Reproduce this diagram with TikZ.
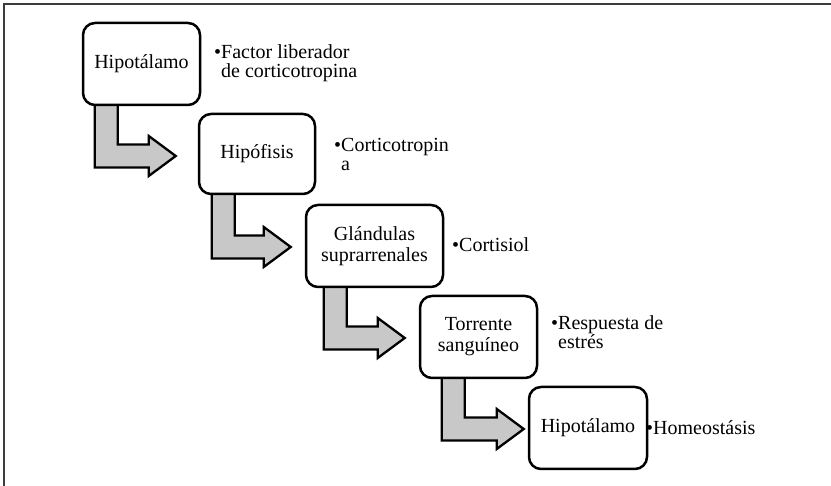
\documentclass[tikz,border=0pt]{standalone}
\usepackage{fontspec}
\setmainfont{Liberation Serif}
\usetikzlibrary{calc,backgrounds}
\definecolor{arrowgray}{RGB}{200,200,200}
\definecolor{framegray}{RGB}{60,60,60}
\newcommand\flowarrow[2]{%
  \draw[blockarrow] let \p1=(#1), \p2=(#2) in
    (\x1,\y1) -- (\x1+23pt,\y1) -- (\x1+23pt,\y2+11.5pt) -- (\x2-27pt,\y2+11.5pt)
    -- (\x2-27pt,\y2+20pt) -- (\x2,\y2) -- (\x2-27pt,\y2-20pt)
    -- (\x2-27pt,\y2-11.5pt) -- (\x1,\y2-11.5pt) -- cycle;}
\tikzset{
  box/.style={draw=black, fill=white, line width=2.5pt, rounded corners=12pt,
    minimum height=82pt, align=center, inner sep=2pt,
    font=\fontsize{20}{21}\selectfont},
  note/.style={anchor=north west, align=left, inner sep=0pt,
    font=\fontsize{20}{19}\selectfont},
  blockarrow/.style={draw=black, fill=arrowgray, line width=2.3pt, line join=miter},
  framestyle/.style={draw=framegray, line width=1.5pt}
}
\begin{document}
\begin{tikzpicture}[x=1pt,y=1pt]
\useasboundingbox (0,0) rectangle (831,486);
% frame (top and left edges visible)
\coordinate (fr1) at (4,0);
\coordinate (fr2) at (4,482);
\coordinate (fr3) at (831,482);
\draw[framestyle] (fr1) -- (fr2) -- (fr3);
% boxes
\node[box, minimum width=117pt] (b1) at (141.5,422) {Hipotálamo};
\node[box, minimum width=116pt, minimum height=80pt] (b2) at (257,332) {Hipófisis};
\node[box, minimum width=137pt] (b3) at (374.5,240) {Glándulas\\suprarrenales};
\node[box, minimum width=117pt] (b4) at (478.5,149) {Torrente\\sanguíneo};
\node[box, minimum width=118pt] (b5) at (588,58) {Hipotálamo};
% notes
\node[note] (n1) at (221,442) {\llap{•}Factor liberador\\de corticotropina};
\node[note] (n2) at (341,348) {\llap{•}Corticotropin\\a};
\node[note] (n3) at (459,249) {\llap{•}Cortisiol};
\node[note] (n4) at (558,171) {\llap{•}Respuesta de\\estrés};
\node[note] (n5) at (653,66) {\llap{•}Homeostásis};
% arrows
\begin{pgfonlayer}{background}
\coordinate (s1) at ($(b1.south west)+(13,3)$);
\coordinate (t1) at ($(b2.west)+(-22,-2)$);
\coordinate (s2) at ($(b2.south west)+(14,3)$);
\coordinate (t2) at ($(b3.west)+(-14,-1)$);
\coordinate (s3) at ($(b3.south west)+(19,3)$);
\coordinate (t3) at ($(b4.west)+(-14,-1)$);
\coordinate (s4) at ($(b4.south west)+(23,3)$);
\coordinate (t4) at ($(b5.west)+(-4,-1)$);
\flowarrow{s1}{t1}
\flowarrow{s2}{t2}
\flowarrow{s3}{t3}
\flowarrow{s4}{t4}
\end{pgfonlayer}
\end{tikzpicture}
\end{document}
